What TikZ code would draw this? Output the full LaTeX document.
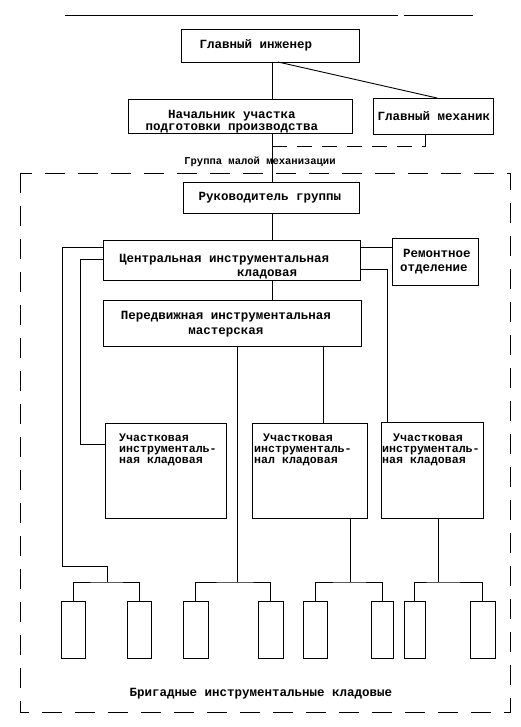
\documentclass[tikz,border=0pt]{standalone}
\usepackage{fontspec}
\newfontfamily\lmono{Liberation Mono}
\begin{document}
\begin{tikzpicture}[x=1pt,y=-1pt,
  ln/.style={line width=0.9pt},
  box/.style={draw,line width=0.9pt,inner sep=0pt,outer sep=0pt},
  txt/.style={inner sep=0pt,font={\lmono\bfseries\fontsize{12.5}{10}\selectfont}},
  utxt/.style={inner sep=0pt,anchor=west,align=left,font={\lmono\bfseries\fontsize{11.6}{11.2}\selectfont}},
  dsh/.style={line width=0.9pt,dash pattern=on 20pt off 13pt}]
\useasboundingbox (0,0) rectangle (521,727);
% top rule
\draw[ln] (65,15) -- (398,15) (404,15) -- (473,15);
% boxes
\node[box,minimum width=178pt,minimum height=33pt] (gi) at (270,45.5) {};
\node[box,minimum width=224pt,minimum height=34pt] (nach) at (240,116) {};
\node[box,minimum width=120pt,minimum height=36pt] (mech) at (433,116) {};
\node[box,minimum width=176pt,minimum height=31pt] (ruk) at (271,197.5) {};
\node[box,minimum width=257pt,minimum height=40pt] (cent) at (231.5,260) {};
\node[box,minimum width=86pt,minimum height=47pt] (rem) at (435,261.5) {};
\node[box,minimum width=258pt,minimum height=46pt] (pered) at (232,323) {};
\node[box,minimum width=121pt,minimum height=95pt] (u1) at (165.5,470.5) {};
\node[box,minimum width=115pt,minimum height=95pt] (u2) at (309.5,470.5) {};
\node[box,minimum width=102pt,minimum height=96pt] (u3) at (432,470) {};
\foreach \n/\cx/\w in {b1/73/24,b2/139/24,b3/195.5/25,b4/270.5/25,b5/315/24,b6/382.5/22,b7/414.5/21,b8/482.5/25}
  \node[box,minimum width=\w pt,minimum height=57pt] (\n) at (\cx,629.5) {};
% texts
\node[txt] (tgi) at (256,45) {Главный инженер};
\node[txt,align=center,font={\lmono\bfseries\fontsize{12.5}{12}\selectfont}] (tnach) at (232,122) {Начальник участка\\подготовки производства};
\node[txt] (tmech) at (434,116) {Главный механик};
\node[txt,font={\lmono\bfseries\fontsize{10.5}{11}\selectfont}] (tgrp) at (260,162) {Группа малой механизации};
\node[txt] (truk) at (270,198) {Руководитель группы};
\node[txt,anchor=west,align=left,font={\lmono\bfseries\fontsize{12.5}{13.5}\selectfont}] (tcent) at (119,266.5) {Центральная инструментальная\\\hspace*{118pt}кладовая};
\node[txt,anchor=west,align=left,font={\lmono\bfseries\fontsize{12.5}{14}\selectfont}] (trem) at (400,262) {\hspace*{3pt}Ремонтное\\отделение};
\node[txt,align=center,font={\lmono\bfseries\fontsize{12.5}{15}\selectfont}] (tpered) at (226,324.5) {Передвижная инструментальная\\мастерская};
\node[utxt] (tu1) at (119,450) {Участковая\\инструменталь-\\ная кладовая};
\node[utxt] (tu2) at (254,450) {\hspace*{9pt}Участковая\\инструменталь-\\нал кладовая};
\node[utxt] (tu3) at (382,450) {\hspace*{11pt}Участковая\\инструменталь-\\ная кладовая};
\node[txt] (tbrig) at (261,694) {Бригадные инструментальные кладовые};
% frame
\draw[dsh] (20,173) rectangle (510,712);
% helper coordinates
\coordinate (xa) at (272,0);
\coordinate (dm) at (272,146);
\coordinate (yA) at (0,247);
\coordinate (yB) at (0,259);
\coordinate (yC) at (0,269);
\coordinate (r3) at (387,0);
\coordinate (L1) at (62,566);
\coordinate (L2) at (80,444);
\coordinate (br1) at (107,582);
\coordinate (br2) at (237,582);
\coordinate (br3) at (350,582);
\coordinate (br4) at (438,582);
\coordinate (p2) at (323,0);
% connectors
\draw[ln] (gi.south -| xa) -- (nach.north -| xa);
\draw[ln] ([xshift=8pt]gi.south) -- ([xshift=4pt]mech.north);
\draw[ln] (nach.south -| xa) -- (ruk.north -| xa);
\draw[dsh,dash pattern=on 15pt off 10pt] (dm) -| ([xshift=-8pt]mech.south);
\draw[ln] (ruk.south -| xa) -- (cent.north -| xa);
\draw[ln] (cent.south -| xa) -- (pered.north -| xa);
\draw[ln] (cent.east |- yA) -- (rem.west |- yA);
\draw[ln] (cent.east |- yC) -| (u3.north -| r3);
\draw[ln] (cent.west |- yA) -| (L1) -| (br1);
\draw[ln] (cent.west |- yB) -| (L2) -- (u1.west |- L2);
\draw[ln] (pered.south -| br2) -- (br2);
\draw[ln] (pered.south -| p2) -- (u2.north -| p2);
\draw[ln] (u2.south -| br3) -- (br3);
\draw[ln] (u3.south -| br4) -- (br4);
\draw[ln] (b1.north) |- (br1) -| (b2.north);
\draw[ln] (b3.north) |- (br2) -| (b4.north);
\draw[ln] (b5.north) |- (br3) -| (b6.north);
\draw[ln] (b7.north) |- (br4) -| (b8.north);
\end{tikzpicture}
\end{document}
